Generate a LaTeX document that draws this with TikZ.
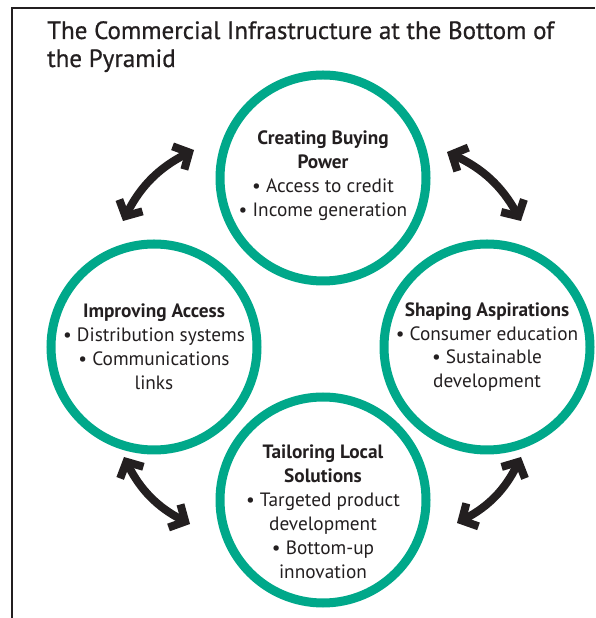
\documentclass[tikz,border=0pt]{standalone}
\usepackage{fontspec}
\setmainfont{PT Sans}
\newfontfamily\titlefont[FakeBold=0.7]{PT Sans}
\usetikzlibrary{arrows.meta,positioning}
\definecolor{ringteal}{RGB}{0,168,138}
\definecolor{inkgray}{RGB}{35,31,32}

\begin{document}
\begin{tikzpicture}[x=1pt, y=1pt,
    ring/.style={circle, draw=ringteal, line width=9pt, minimum size=206pt, inner sep=0pt},
    topic/.style={align=center, font=\fontsize{19.3}{23.9}\selectfont, text=inkgray, inner sep=0pt},
    barb/.tip={Straight Barb[sharp, length=12pt, width=26pt]},
    link/.style={barb-barb, line width=8pt, draw=inkgray, bend left=18}
]
    \useasboundingbox (0,0) rectangle (595,618);

    % Rahmen und Titel
    \draw[line width=1.2pt, inkgray] (12,0) -- (12,610) -- (595,610);
    \node[anchor=north west, align=left, inner sep=0pt, text=inkgray,
          font=\titlefont\fontsize{25}{28}\selectfont] (title) at (47,597)
          {The Commercial Infrastructure at the Bottom of\\the Pyramid};

    % Kreise
    \node[ring] (power) at (323,440) {};
    \node[ring] (access) at (154,271) {};
    \node[ring] (aspire) at (487,271) {};
    \node[ring] (local) at (323,118) {};

    % Texte
    \node[topic] (power-txt) at (323,442)
        {\textbf{Creating Buying}\\\textbf{Power}\\\textbullet\ Access to credit\\\textbullet\ Income generation};
    \node[topic] (access-txt) at (154,271)
        {\textbf{Improving Access}\\\textbullet\ Distribution systems\\\textbullet\ Communications\\links};
    \node[topic] (aspire-txt) at (487,271)
        {\textbf{Shaping Aspirations}\\\textbullet\ Consumer education\\\textbullet\ Sustainable\\development};
    \node[topic] (local-txt) at (323,106)
        {\textbf{Tailoring Local}\\\textbf{Solutions}\\\textbullet\ Targeted product\\development\\\textbullet\ Bottom-up\\innovation};

    % Pfeile
    \coordinate (tl-a) at (123,397); \coordinate (tl-b) at (194,468);
    \coordinate (tr-a) at (447,466); \coordinate (tr-b) at (521,397);
    \coordinate (br-a) at (521,161); \coordinate (br-b) at (457,95);
    \coordinate (bl-a) at (190,94);  \coordinate (bl-b) at (124,161);
    \draw[link] (tl-a) to (tl-b);
    \draw[link] (tr-a) to (tr-b);
    \draw[link] (br-a) to (br-b);
    \draw[link] (bl-a) to (bl-b);
\end{tikzpicture}
\end{document}
